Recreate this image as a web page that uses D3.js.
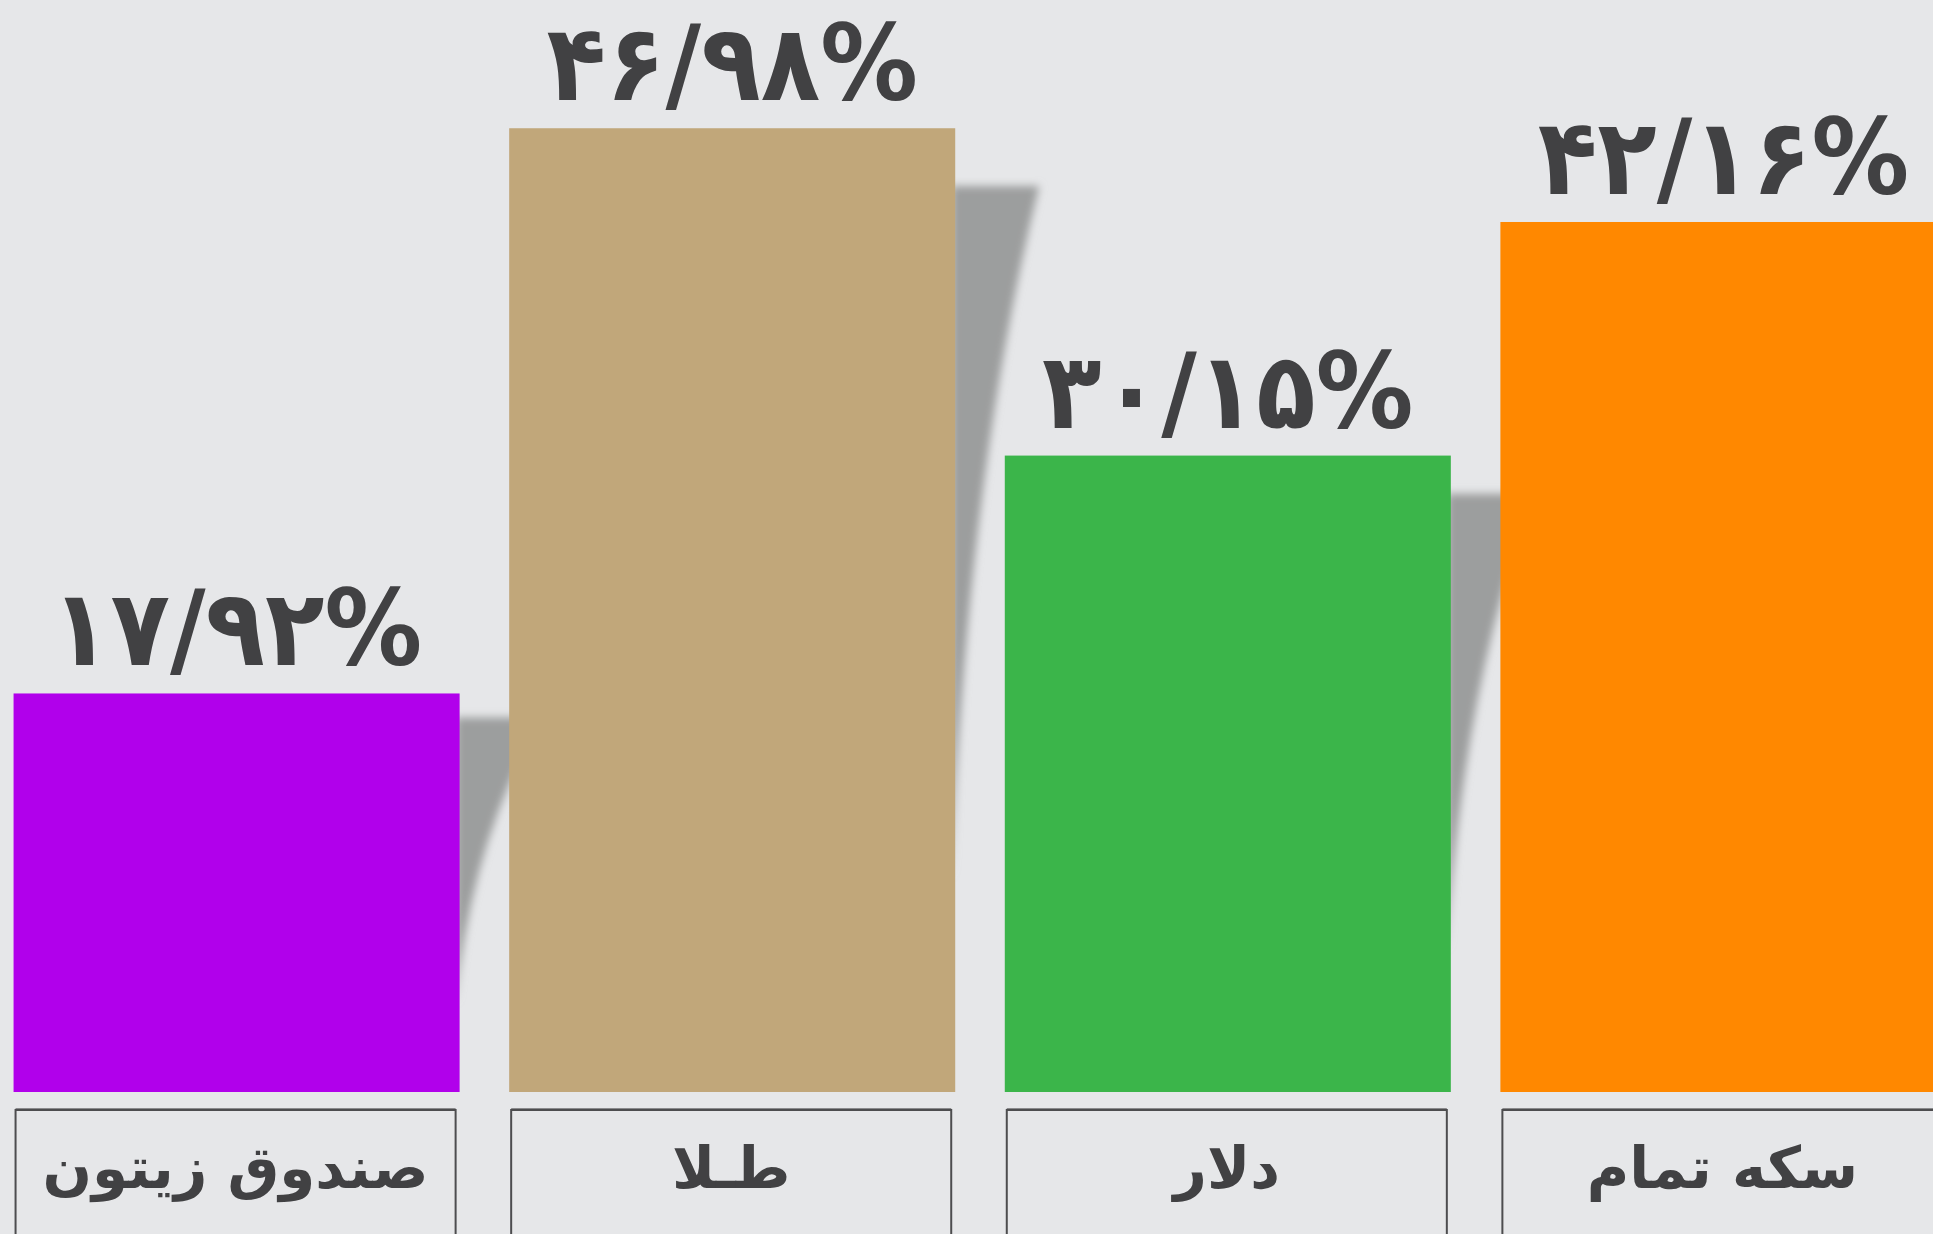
<!DOCTYPE html>
<html>
<head>
<meta charset="utf-8">
<script src="https://cdn.jsdelivr.net/npm/d3@7"></script>
<style>
  html, body { margin: 0; padding: 0; background: #e6e7e9; overflow: hidden; }
  svg { display: block; }
</style>
</head>
<body>
<div id="chart"></div>
<script>
const categories = ["صندوق زیتون", "طـلا", "دلار", "سکه تمام"];
const values = [17.92, 46.98, 30.15, 42.16];
const colors = ["#b100eb", "#c1a77a", "#3bb54a", "#ff8800"];

const width = 1933, height = 1234;
const baseline = 1092;

// latin digits -> persian digits, decimal written with a slash like the original
function toFa(v) {
    const fa = "۰۱۲۳۴۵۶۷۸۹";
    return v.toFixed(2).replace(/\d/g, d => fa[+d]).replace(".", "/") + "%";
}

const svg = d3.select("#chart").append("svg")
    .attr("width", width)
    .attr("height", height);

const defs = svg.append("defs");
defs.append("filter")
    .attr("id", "blur")
    .attr("x", "-50%").attr("y", "-20%")
    .attr("width", "200%").attr("height", "140%")
    .append("feGaussianBlur")
    .attr("stdDeviation", 4);

const x = d3.scaleBand()
    .domain(categories)
    .range([-36, 1996])
    .padding(0.1);

const y = d3.scaleLinear()
    .domain([-2.57, 50])
    .range([baseline, 69.5]);

const data = categories.map((c, i) => ({ cat: c, value: values[i], color: colors[i] }));

// page-curl style shadow to the right of every bar
svg.append("g").selectAll("path")
    .data(data)
    .join("path")
    .attr("d", d => {
        const r = x(d.cat) + x.bandwidth();
        const t = y(d.value);
        const h = baseline - t;
        const off = h * 0.06;
        return `M${r - 4},${t + off} L${r + 84},${t + off} Q${r + 12},${t + h * 0.36} ${r - 4},${t + h * 0.78} Z`;
    })
    .style("fill", "#9c9e9e")
    .attr("filter", "url(#blur)");

svg.append("g").selectAll("rect")
    .data(data)
    .join("rect")
    .attr("x", d => x(d.cat))
    .attr("y", d => y(d.value))
    .attr("width", x.bandwidth())
    .attr("height", d => baseline - y(d.value))
    .style("fill", d => d.color);

svg.append("g").selectAll("text")
    .data(data)
    .join("text")
    .attr("transform", d => `translate(${x(d.cat) + x.bandwidth() / 2},${y(d.value) - 28}) scale(1.06,1.15)`)
    .attr("text-anchor", "middle")
    .attr("direction", "ltr")
    .style("font-family", "'DejaVu Sans', sans-serif")
    .style("font-weight", "bold")
    .style("font-size", "92px")
    .style("fill", "#414143")
    .text(d => toFa(d.value));

// category boxes under the bars
const boxes = svg.append("g").selectAll("g")
    .data(data)
    .join("g")
    .attr("transform", d => `translate(${x(d.cat) + 2},1110)`);

boxes.append("rect")
    .attr("width", x.bandwidth() - 6)
    .attr("height", 160)
    .style("fill", "none")
    .style("stroke", "#4d4d4f")
    .style("stroke-width", 2);

boxes.append("line")
    .attr("x1", 0).attr("x2", x.bandwidth() - 6)
    .attr("y1", -1.5).attr("y2", -1.5)
    .style("stroke", "#8a8a8c")
    .style("stroke-width", 1);

boxes.append("text")
    .attr("x", (x.bandwidth() - 6) / 2)
    .attr("y", 78)
    .attr("text-anchor", "middle")
    .style("font-family", "'DejaVu Sans', sans-serif")
    .style("font-weight", "bold")
    .style("font-size", "58px")
    .style("fill", "#414143")
    .text(d => d.cat);
</script>
</body>
</html>
